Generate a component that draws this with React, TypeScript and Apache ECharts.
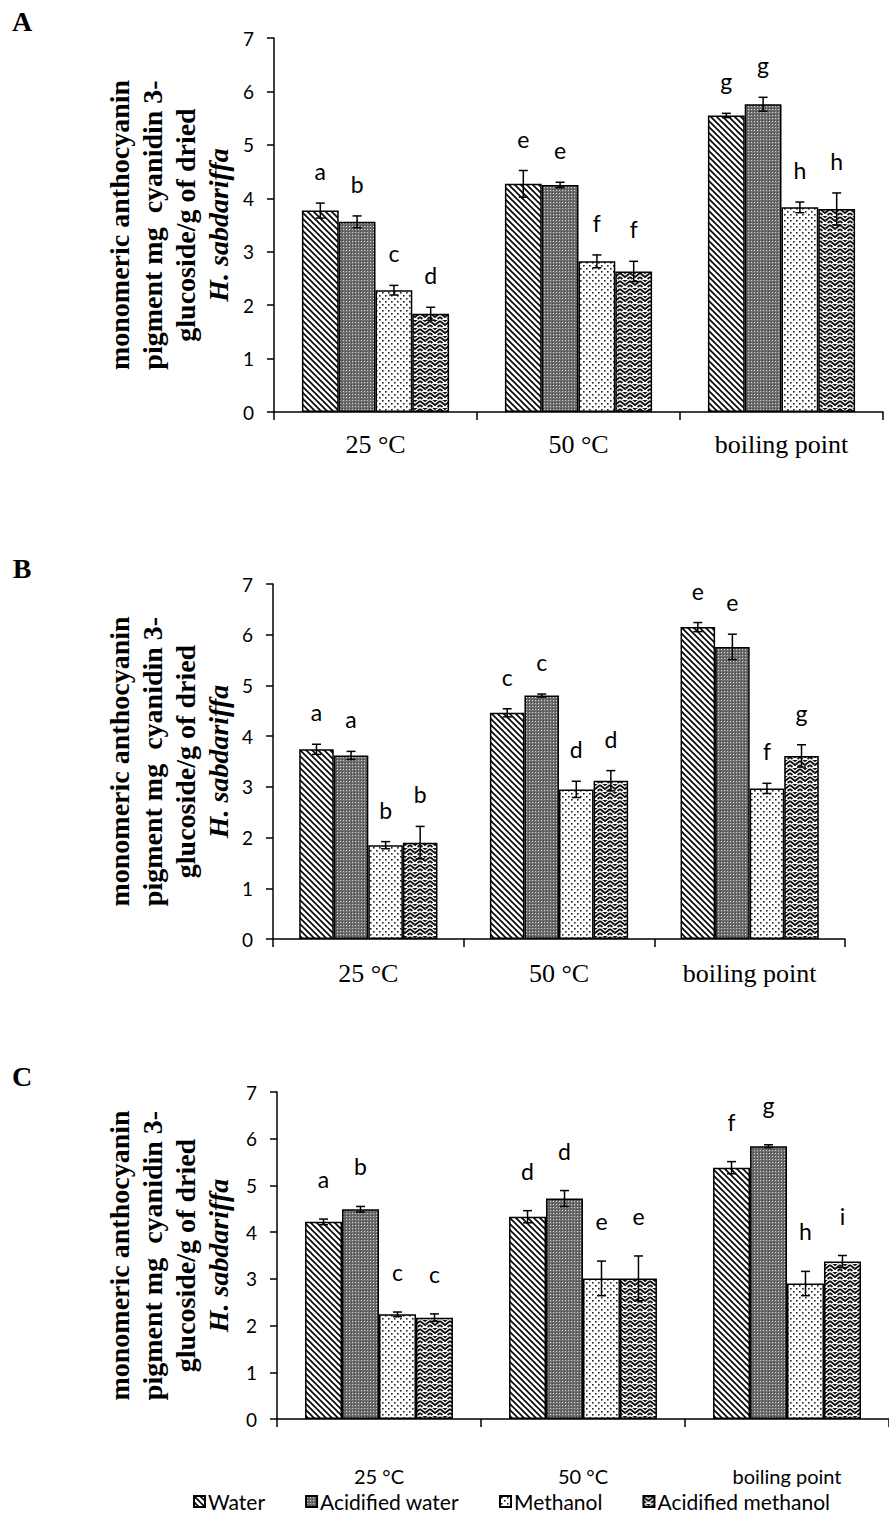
import React, { useEffect, useRef } from "react";
import * as echarts from "echarts";

// ---------- data ----------
const categories = ["25 °C", "50 °C", "boiling point"];
const seriesNames = ["Water", "Acidified water", "Methanol", "Acidified methanol"];
const panelLetters = ["A", "B", "C"];
const yTicks = [0, 1, 2, 3, 4, 5, 6, 7];

// Panel A
const aWater = [3.77, 4.27, 5.55];
const aAcidWater = [3.56, 4.25, 5.76];
const aMethanol = [2.28, 2.82, 3.83];
const aAcidMethanol = [1.84, 2.63, 3.8];
const aWaterErr = [0.14, 0.25, 0.04];
const aAcidWaterErr = [0.11, 0.05, 0.13];
const aMethanolErr = [0.09, 0.12, 0.1];
const aAcidMethanolErr = [0.12, 0.19, 0.3];
const aWaterSig = ["a", "e", "g"];
const aAcidWaterSig = ["b", "e", "g"];
const aMethanolSig = ["c", "f", "h"];
const aAcidMethanolSig = ["d", "f", "h"];

// Panel B
const bWater = [3.74, 4.46, 6.15];
const bAcidWater = [3.62, 4.8, 5.76];
const bMethanol = [1.85, 2.95, 2.97];
const bAcidMethanol = [1.9, 3.12, 3.61];
const bWaterErr = [0.1, 0.08, 0.09];
const bAcidWaterErr = [0.08, 0.03, 0.25];
const bMethanolErr = [0.07, 0.16, 0.1];
const bAcidMethanolErr = [0.32, 0.2, 0.22];
const bWaterSig = ["a", "c", "e"];
const bAcidWaterSig = ["a", "c", "e"];
const bMethanolSig = ["b", "d", "f"];
const bAcidMethanolSig = ["b", "d", "g"];

// Panel C
const cWater = [4.22, 4.33, 5.38];
const cAcidWater = [4.49, 4.72, 5.84];
const cMethanol = [2.24, 3.01, 2.9];
const cAcidMethanol = [2.17, 3.01, 3.37];
const cWaterErr = [0.06, 0.13, 0.13];
const cAcidWaterErr = [0.06, 0.17, 0.03];
const cMethanolErr = [0.05, 0.37, 0.26];
const cAcidMethanolErr = [0.08, 0.48, 0.13];
const cWaterSig = ["a", "d", "f"];
const cAcidWaterSig = ["b", "d", "g"];
const cMethanolSig = ["c", "e", "h"];
const cAcidMethanolSig = ["c", "e", "i"];

const panels = [
  {
    means: [aWater, aAcidWater, aMethanol, aAcidMethanol],
    errs: [aWaterErr, aAcidWaterErr, aMethanolErr, aAcidMethanolErr],
    sigs: [aWaterSig, aAcidWaterSig, aMethanolSig, aAcidMethanolSig],
  },
  {
    means: [bWater, bAcidWater, bMethanol, bAcidMethanol],
    errs: [bWaterErr, bAcidWaterErr, bMethanolErr, bAcidMethanolErr],
    sigs: [bWaterSig, bAcidWaterSig, bMethanolSig, bAcidMethanolSig],
  },
  {
    means: [cWater, cAcidWater, cMethanol, cAcidMethanol],
    errs: [cWaterErr, cAcidWaterErr, cMethanolErr, cAcidMethanolErr],
    sigs: [cWaterSig, cAcidWaterSig, cMethanolSig, cAcidMethanolSig],
  },
];

// ---------- layout / style ----------
const SERIF = "'Liberation Serif', 'Times New Roman', serif";
const SANS = "Lato, 'Noto Sans', sans-serif";
const grids = [
  { left: 274, top: 38, width: 609, height: 374 },
  { left: 273, top: 584, width: 572, height: 355 },
  { left: 277, top: 1092, width: 621, height: 327 },
];
const catLabelStyle = [
  { fontFamily: SERIF, fontSize: 26, margin: 19 },
  { fontFamily: SERIF, fontSize: 26, margin: 21 },
  { fontFamily: SANS, fontSize: 20, margin: 47 },
];
const sigOffset = [32, 32, 40];
const letterY = [21, 568, 1076];
const GAP_RATIO = 0.275;

function makePattern(kind: number): HTMLCanvasElement {
  const c = document.createElement("canvas");
  const ctx = c.getContext("2d")!;
  if (kind === 0) {
    const s = 6;
    c.width = s;
    c.height = s;
    ctx.fillStyle = "#fff";
    ctx.fillRect(0, 0, s, s);
    ctx.strokeStyle = "#000";
    ctx.lineWidth = 1.6;
    ctx.beginPath();
    ctx.moveTo(-1, -1);
    ctx.lineTo(s + 1, s + 1);
    ctx.moveTo(-1, s - 1);
    ctx.lineTo(1, s + 1);
    ctx.moveTo(s - 1, -1);
    ctx.lineTo(s + 1, 1);
    ctx.stroke();
  } else if (kind === 1) {
    c.width = 3;
    c.height = 3;
    ctx.fillStyle = "#6e6e6e";
    ctx.fillRect(0, 0, 3, 3);
    ctx.fillStyle = "#d4d4d4";
    ctx.fillRect(1, 1, 1, 1);
    ctx.fillStyle = "#444";
    ctx.fillRect(0, 0, 1, 1);
  } else if (kind === 2) {
    c.width = 6;
    c.height = 6;
    ctx.fillStyle = "#fff";
    ctx.fillRect(0, 0, 6, 6);
    ctx.fillStyle = "#222";
    ctx.fillRect(1, 1, 1.6, 1.6);
    ctx.fillRect(4, 4, 1.6, 1.6);
  } else {
    c.width = 10;
    c.height = 8;
    ctx.fillStyle = "#fff";
    ctx.fillRect(0, 0, 10, 8);
    ctx.strokeStyle = "#111";
    ctx.lineWidth = 1.8;
    ctx.beginPath();
    ctx.moveTo(0, 1);
    ctx.lineTo(5, 5);
    ctx.lineTo(10, 1);
    ctx.moveTo(0, 5);
    ctx.lineTo(2.5, 7);
    ctx.moveTo(10, 5);
    ctx.lineTo(7.5, 7);
    ctx.moveTo(2.5, -1);
    ctx.lineTo(5, 1);
    ctx.lineTo(7.5, -1);
    ctx.stroke();
  }
  return c;
}

export default function App() {
  const ref = useRef<HTMLDivElement>(null);
  useEffect(() => {
    document.body.style.margin = "0";
    if (!ref.current) return;
    const chart = echarts.init(ref.current, null, { renderer: "svg" });
    const patterns = [0, 1, 2, 3].map((k) => ({
      image: makePattern(k),
      repeat: "repeat",
    }));

    const xAxis: any[] = [];
    const yAxis: any[] = [];
    const series: any[] = [];
    const graphic: any[] = [];

    panels.forEach((p, pi) => {
      xAxis.push({
        type: "category",
        gridIndex: pi,
        data: categories,
        axisLine: { lineStyle: { color: "#000", width: 1.5 } },
        axisTick: { show: true, length: 8, lineStyle: { color: "#000", width: 1.5 } },
        axisLabel: {
          color: "#000",
          fontFamily: catLabelStyle[pi].fontFamily,
          fontSize: catLabelStyle[pi].fontSize,
          margin: catLabelStyle[pi].margin,
        },
      });
      yAxis.push({
        type: "value",
        gridIndex: pi,
        min: 0,
        max: 7,
        interval: 1,
        splitLine: { show: false },
        axisLine: { show: true, lineStyle: { color: "#000", width: 1.5 } },
        axisTick: { show: true, length: 7, lineStyle: { color: "#000", width: 1.5 } },
        axisLabel: {
          color: "#000",
          fontFamily: SANS,
          fontSize: 19,
          margin: 20,
          formatter: (v: number) => (yTicks.includes(v) ? String(v) : ""),
        },
      });
      seriesNames.forEach((name, si) => {
        series.push({
          type: "bar",
          name,
          xAxisIndex: pi,
          yAxisIndex: pi,
          data: p.means[si],
          barGap: "0%",
          barCategoryGap: GAP_RATIO * 100 + "%",
          itemStyle: {
            color: patterns[si],
            borderColor: "#000",
            borderWidth: 1.5,
          },
          emphasis: { disabled: true },
        });
      });
      const errData: any[] = [];
      seriesNames.forEach((_, si) => {
        p.means[si].forEach((m, ci) => {
          errData.push([ci, si, m, p.errs[si][ci], p.sigs[si][ci]]);
        });
      });
      const off = sigOffset[pi];
      series.push({
        type: "custom",
        name: "err" + pi,
        xAxisIndex: pi,
        yAxisIndex: pi,
        z: 5,
        encode: { x: 0, y: 2 },
        data: errData,
        renderItem: (params: any, api: any) => {
          const ci = api.value(0);
          const si = api.value(1);
          const m = api.value(2);
          const e = api.value(3);
          const sig = errData[params.dataIndex][4];
          const band = api.size([1, 0])[0];
          const bw = (band * (1 - GAP_RATIO)) / 4;
          const cx = api.coord([ci, m])[0] + (si - 1.5) * bw;
          const yt = api.coord([ci, m + e])[1];
          const yb = api.coord([ci, m - e])[1];
          const cap = 4.5;
          const ls = { stroke: "#000", lineWidth: 1.5 };
          return {
            type: "group",
            children: [
              { type: "line", shape: { x1: cx, y1: yt, x2: cx, y2: yb }, style: ls },
              { type: "line", shape: { x1: cx - cap, y1: yt, x2: cx + cap, y2: yt }, style: ls },
              { type: "line", shape: { x1: cx - cap, y1: yb, x2: cx + cap, y2: yb }, style: ls },
              {
                type: "text",
                x: cx,
                y: yt - off,
                style: {
                  text: sig,
                  fill: "#000",
                  fontFamily: SANS,
                  fontSize: 23,
                  align: "center",
                  verticalAlign: "middle",
                },
              },
            ],
          };
        },
      });

      const g = grids[pi];
      graphic.push({
        type: "text",
        x: 169,
        y: g.top + g.height / 2,
        rotation: Math.PI / 2,
        style: {
          text: "monomeric anthocyanin\npigment mg  cyanidin 3-\nglucoside/g of dried\n{i|H. sabdariffa}",
          fill: "#000",
          fontFamily: SERIF,
          fontWeight: "bold",
          fontSize: 28,
          lineHeight: 33,
          align: "center",
          verticalAlign: "middle",
          rich: {
            i: {
              fontFamily: SERIF,
              fontWeight: "bold",
              fontStyle: "italic",
              fontSize: 28,
              lineHeight: 33,
            },
          },
        },
      });
      graphic.push({
        type: "text",
        x: 22,
        y: letterY[pi],
        style: {
          text: panelLetters[pi],
          fill: "#000",
          fontFamily: SERIF,
          fontWeight: "bold",
          fontSize: 28,
          align: "center",
          verticalAlign: "middle",
        },
      });
    });

    chart.setOption({
      animation: false,
      backgroundColor: "#fff",
      grid: grids.map((g) => ({ ...g, containLabel: false })),
      xAxis,
      yAxis,
      series,
      graphic,
      legend: {
        data: seriesNames,
        left: 188,
        top: 1486,
        itemWidth: 11,
        itemHeight: 11,
        itemGap: 40,
        icon: "rect",
        textStyle: { fontFamily: SANS, fontSize: 21, color: "#000", padding: [0, 0, 0, -2] },
        selectedMode: false,
      },
    });
    return () => chart.dispose();
  }, []);
  return <div ref={ref} style={{ width: 889, height: 1517 }} />;
}
